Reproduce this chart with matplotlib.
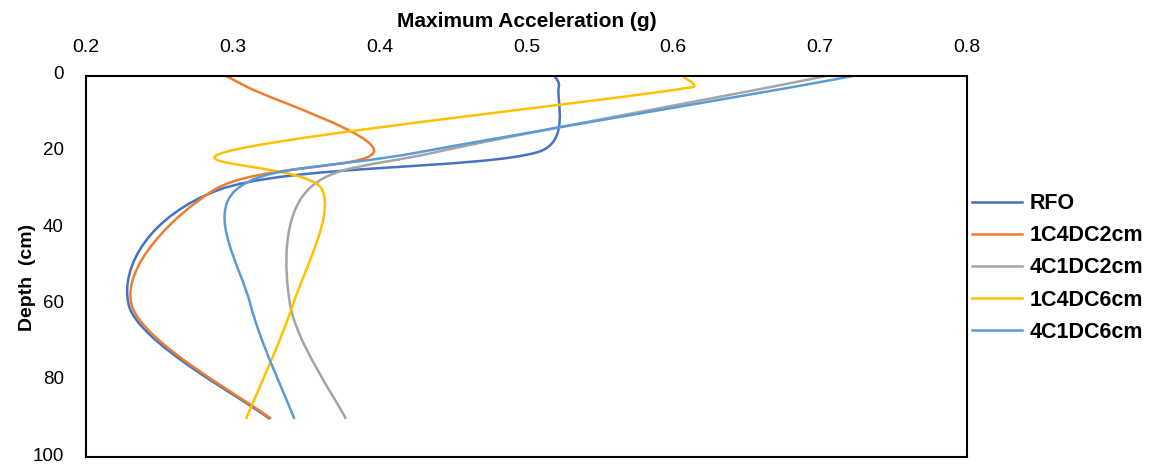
import matplotlib.pyplot as plt
import matplotlib.transforms as mtransforms
from matplotlib.path import Path
from matplotlib.patches import PathPatch
from matplotlib.lines import Line2D

plt.rcParams['font.family'] = ['Liberation Sans', 'DejaVu Sans']

# depth of each reading (cm)
depth = [0, 3, 20, 30, 60, 90]

# maximum acceleration (g)
rfo = [0.519, 0.522, 0.508, 0.290, 0.229, 0.325]
c1_4dc2 = [0.295, 0.310, 0.396, 0.287, 0.231, 0.326]
c4_1dc2 = [0.705, 0.666, 0.439, 0.351, 0.339, 0.377]
c1_4dc6 = [0.606, 0.613, 0.295, 0.361, 0.341, 0.309]
c4_1dc6 = [0.723, 0.681, 0.428, 0.302, 0.312, 0.342]

names = ['RFO', '1C4DC2cm', '4C1DC2cm', '1C4DC6cm', '4C1DC6cm']
series = [rfo, c1_4dc2, c4_1dc2, c1_4dc6, c4_1dc6]
colors = ['#4472C4', '#ED7D31', '#A5A5A5', '#FFC000', '#5B9BD5']

# rough pixels per data unit, used only to keep the smoothing handles sane
SX = 881 / 0.6
SY = 381 / 100


def handle(p_prev, p_next, seg):
    dx = (p_next[0] - p_prev[0]) / 6
    dy = (p_next[1] - p_prev[1]) / 6
    ln = ((dx * SX) ** 2 + (dy * SY) ** 2) ** 0.5
    lim = 0.5 * ((seg[0] * SX) ** 2 + (seg[1] * SY) ** 2) ** 0.5
    if ln > lim and ln > 0:
        dx, dy = dx * lim / ln, dy * lim / ln
    return dx, dy


def smooth_path(xs, ys):
    # Excel-style smoothed line: cubic Bezier through every point
    pts = list(zip(xs, ys))
    n = len(pts)
    verts = [pts[0]]
    codes = [Path.MOVETO]
    for i in range(n - 1):
        p0 = pts[max(i - 1, 0)]
        p1 = pts[i]
        p2 = pts[i + 1]
        p3 = pts[min(i + 2, n - 1)]
        seg = (p2[0] - p1[0], p2[1] - p1[1])
        h1 = handle(p0, p2, seg)
        h2 = handle(p1, p3, seg)
        c1 = (p1[0] + h1[0], p1[1] + h1[1])
        c2 = (p2[0] - h2[0], p2[1] - h2[1])
        verts += [c1, c2, p2]
        codes += [Path.CURVE4] * 3
    return Path(verts, codes)


fig = plt.figure(figsize=(11.51, 4.65), dpi=100)
ax = fig.add_axes([0.0747, 0.0172, 0.7654, 0.82])

handles = []
for vals, name, col in zip(series, names, colors):
    patch = PathPatch(smooth_path(vals, depth), fill=False, edgecolor=col,
                      linewidth=1.8, capstyle='butt', joinstyle='round')
    ax.add_patch(patch)
    handles.append(Line2D([], [], color=col, linewidth=1.8, label=name))

ax.set_xlim(0.2, 0.8)
ax.set_ylim(100, 0)
ax.set_xticks([0.2, 0.3, 0.4, 0.5, 0.6, 0.7, 0.8])
ax.set_xticklabels(['0.2', '0.3', '0.4', '0.5', '0.6', '0.7', '0.8'])
ax.set_yticks([0, 20, 40, 60, 80, 100])
ax.xaxis.tick_top()
ax.xaxis.set_label_position('top')
ax.tick_params(axis='x', length=0, labelsize=14, pad=14)
ax.tick_params(axis='y', length=0, labelsize=13.5, pad=16)
# nudge the depth labels up a little so "100" stays inside the figure
lift = mtransforms.ScaledTranslation(0, 0.03, fig.dpi_scale_trans)
for lab in ax.get_yticklabels():
    lab.set_verticalalignment('center_baseline')
    lab.set_transform(lab.get_transform() + lift)
for s in ax.spines.values():
    s.set_linewidth(1.5)
    s.set_color('black')

ax.set_xlabel('Maximum Acceleration (g)', fontsize=15, fontweight='bold', labelpad=9)
ax.set_ylabel('Depth  (cm)', fontsize=14, fontweight='bold', labelpad=4)
ax.yaxis.set_label_coords(-0.057, 0.47)

fig.legend(handles=handles, loc='center left', bbox_to_anchor=(0.8445, 0.4237),
           frameon=False, handlelength=2.33, handletextpad=0.33,
           labelspacing=0.52, borderpad=0, borderaxespad=0,
           prop={'weight': 'bold', 'size': 15.5})

fig.savefig('out.png', dpi=100)
